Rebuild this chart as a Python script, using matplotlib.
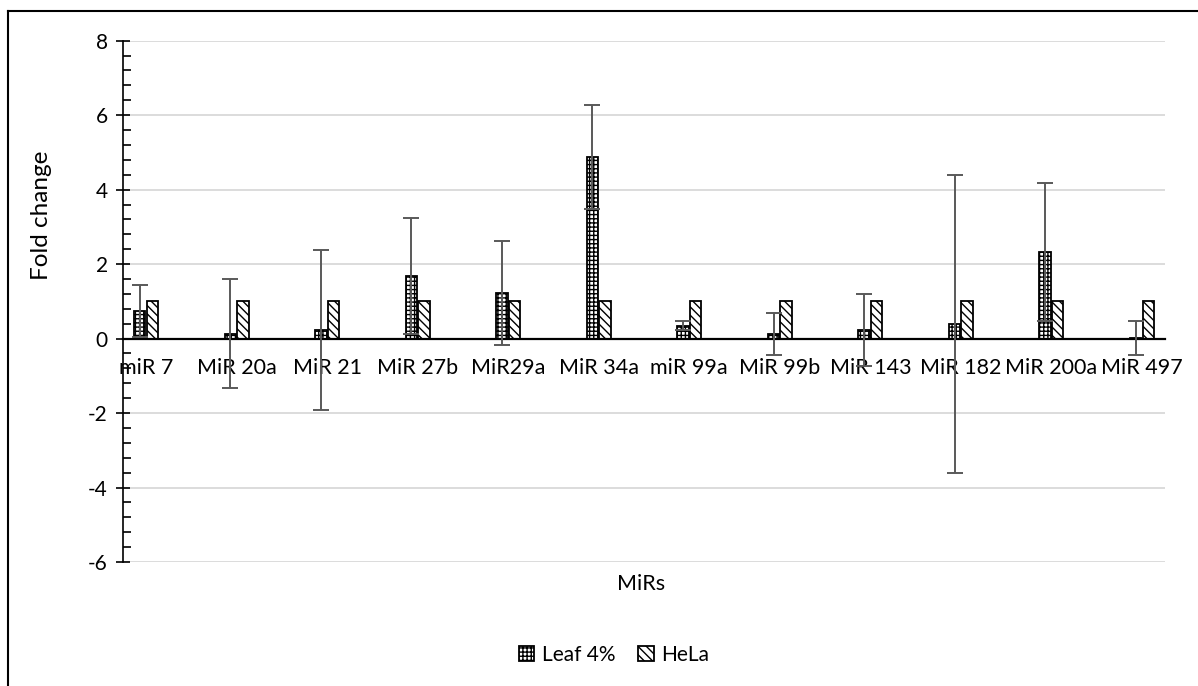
import matplotlib
matplotlib.use("Agg")
import matplotlib.pyplot as plt
import numpy as np
from matplotlib.lines import Line2D
from matplotlib.ticker import MultipleLocator

plt.rcParams['font.family'] = ['Lato', 'DejaVu Sans']
plt.rcParams['hatch.linewidth'] = 1.0

categories = ["miR 7", "MiR 20a", "MiR 21", "MiR 27b", "MiR29a", "MiR 34a",
              "miR 99a", "MiR 99b", "MiR 143", "MiR 182", "MiR 200a", "MiR 497"]
leaf = [0.75, 0.13, 0.24, 1.68, 1.22, 4.87, 0.35, 0.13, 0.23, 0.39, 2.33, 0.01]
leaf_err = [0.70, 1.47, 2.15, 1.56, 1.39, 1.40, 0.12, 0.56, 0.97, 4.01, 1.85, 0.45]
hela = [1, 1, 1, 1, 1, 1, 1, 1, 1, 1, 1, 1]
yticks = [-6, -4, -2, 0, 2, 4, 6, 8]

W, H = 1198, 686
fig = plt.figure(figsize=(W / 100, H / 100), dpi=100)
ax = fig.add_axes([123 / W, 1 - 562 / H, (1165 - 123) / W, (562 - 40.7) / H])

x = np.arange(len(categories))
bw = 0.127
ax.bar(x - bw / 2 - 0.006, leaf, bw, color='white', edgecolor='black',
       hatch='++++', linewidth=1.3, label='Leaf 4%', zorder=3)
ax.bar(x + bw / 2 + 0.006, hela, bw, color='white', edgecolor='black',
       hatch='\\\\\\\\', linewidth=1.3, label='HeLa', zorder=3)
ax.errorbar(x - bw / 2 - 0.006, leaf, yerr=leaf_err, fmt='none', ecolor='#595959',
            elinewidth=1.4, capsize=5.5, capthick=1.4, zorder=4)

ax.set_xlim(-0.254, len(categories) - 1 + 0.254)
ax.set_ylim(-6, 8)
ax.set_yticks(yticks)
ax.set_yticklabels([str(v) for v in yticks], fontsize=15)
ax.yaxis.set_minor_locator(MultipleLocator(0.4))
ax.tick_params(axis='y', which='major', direction='inout', length=10, width=1.2, pad=6)
ax.tick_params(axis='y', which='minor', direction='in', length=6, width=1.2)
ax.grid(axis='y', color='#d9d9d9', linewidth=1.3, zorder=0)
ax.set_axisbelow(True)

ax.spines['top'].set_visible(False)
ax.spines['right'].set_visible(False)
ax.spines['bottom'].set_position(('data', 0))
ax.spines['bottom'].set_linewidth(1.6)
ax.spines['bottom'].set_zorder(3.5)
ax.spines['left'].set_linewidth(1.2)
ax.set_xticks(x)
ax.set_xticklabels(categories, fontsize=15.5)
ax.tick_params(axis='x', length=0, pad=14)

fig.text(42 / W, 1 - 215 / H, "Fold change", rotation=90, fontsize=17.5,
         ha='center', va='center')
fig.text(641 / W, 1 - 584 / H, "MiRs", fontsize=15.5, ha='center', va='center')

leg = fig.legend(loc='center', bbox_to_anchor=(614 / W, 1 - 655 / H), ncol=2,
                 frameon=False, fontsize=15, handlelength=0.75, handleheight=0.75,
                 columnspacing=1.1, handletextpad=0.35)

fig.add_artist(Line2D([8 / W, 1.0], [1 - 11 / H, 1 - 11 / H], color='black', linewidth=1.5,
                      transform=fig.transFigure))
fig.add_artist(Line2D([8 / W, 8 / W], [0, 1 - 11 / H], color='black', linewidth=1.5,
                      transform=fig.transFigure))

fig.savefig("out.png", dpi=100)
